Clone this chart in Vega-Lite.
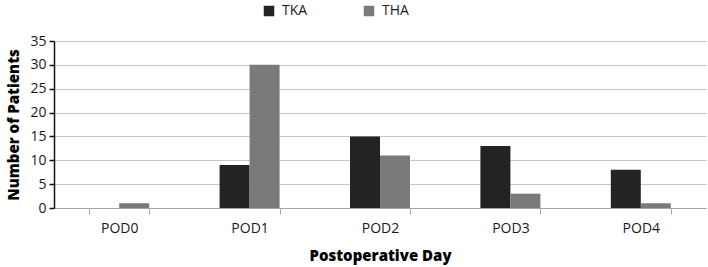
{
  "$schema": "https://vega.github.io/schema/vega-lite/v6.json",
  "width": 652,
  "height": 167,
  "autosize": {"type": "none"},
  "padding": {"left": 54, "top": 41, "right": 2, "bottom": 59},
  "background": "white",
  "config": {
    "font": "Open Sans",
    "view": {"stroke": null}
  },
  "data": {
    "values": [
      {"day": "POD0", "group": "TKA", "patients": 0},
      {"day": "POD0", "group": "THA", "patients": 1},
      {"day": "POD1", "group": "TKA", "patients": 9},
      {"day": "POD1", "group": "THA", "patients": 30},
      {"day": "POD2", "group": "TKA", "patients": 15},
      {"day": "POD2", "group": "THA", "patients": 11},
      {"day": "POD3", "group": "TKA", "patients": 13},
      {"day": "POD3", "group": "THA", "patients": 3},
      {"day": "POD4", "group": "TKA", "patients": 8},
      {"day": "POD4", "group": "THA", "patients": 1}
    ]
  },
  "mark": {"type": "bar"},
  "encoding": {
    "x": {
      "field": "day",
      "type": "nominal",
      "scale": {"paddingInner": 0.54, "paddingOuter": 0.27},
      "axis": {
        "title": "Postoperative Day",
        "titleFont": "Open Sans",
        "titleFontWeight": 800,
        "titleFontSize": 15,
        "titleColor": "#000000",
        "titlePadding": 13,
        "labelAngle": 0,
        "labelFontSize": 14,
        "labelColor": "#1a1a1a",
        "labelPadding": 7,
        "tickBand": "extent",
        "tickSize": 6,
        "tickColor": "#a6a6a6",
        "domainColor": "#a6a6a6",
        "grid": false
      }
    },
    "xOffset": {
      "field": "group",
      "type": "nominal",
      "sort": ["TKA", "THA"],
      "scale": {"paddingInner": 0, "paddingOuter": 0}
    },
    "y": {
      "field": "patients",
      "type": "quantitative",
      "scale": {"domain": [0, 35]},
      "axis": {
        "title": "Number of Patients",
        "titleFont": "Open Sans",
        "titleFontWeight": 800,
        "titleFontSize": 15,
        "titleColor": "#000000",
        "titlePadding": 8,
        "values": [0, 5, 10, 15, 20, 25, 30, 35],
        "labelFontSize": 14,
        "labelColor": "#1a1a1a",
        "labelPadding": 3,
        "tickSize": 5,
        "tickColor": "#111111",
        "tickWidth": 1.5,
        "domainColor": "#111111",
        "domainWidth": 1.5,
        "gridColor": "#c8c8c8",
        "grid": true
      }
    },
    "color": {
      "field": "group",
      "type": "nominal",
      "sort": ["TKA", "THA"],
      "scale": {"domain": ["TKA", "THA"], "range": ["#232323", "#7a7a7a"]},
      "legend": {
        "title": null,
        "orient": "none",
        "direction": "horizontal",
        "legendX": 208,
        "legendY": -37,
        "symbolType": "square",
        "symbolSize": 110,
        "symbolStrokeWidth": 0,
        "labelFontSize": 14,
        "labelColor": "#1a1a1a",
        "labelOffset": 6,
        "columnPadding": 54
      }
    }
  }
}
